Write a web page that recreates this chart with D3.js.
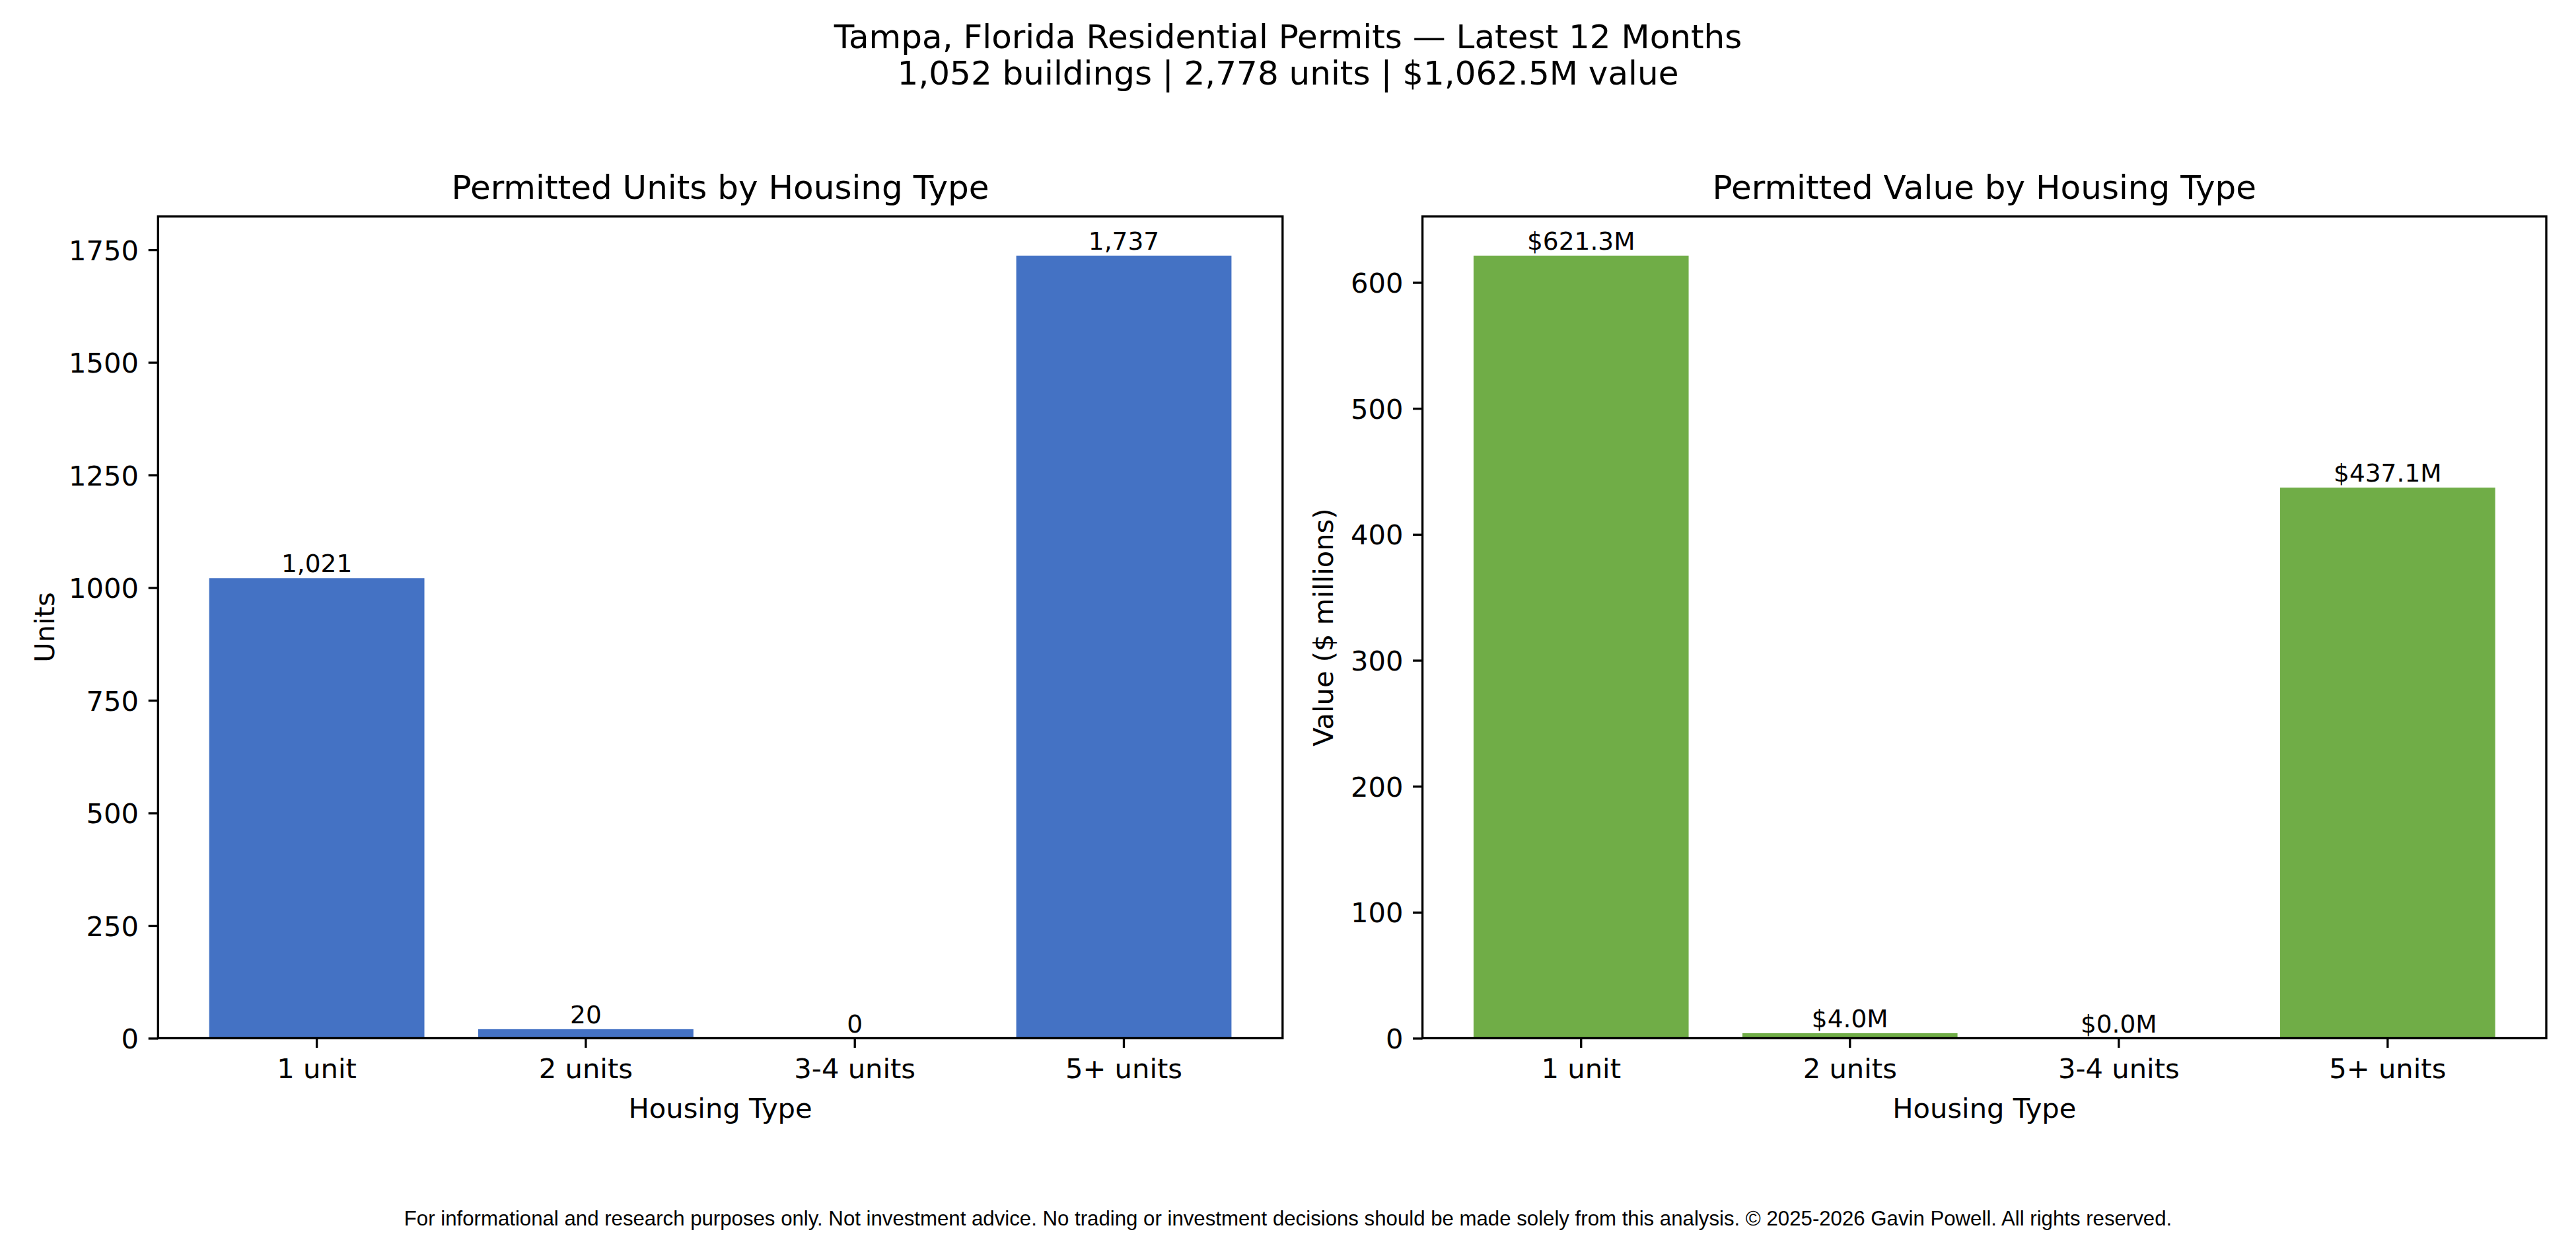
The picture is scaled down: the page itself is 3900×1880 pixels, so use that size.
<!DOCTYPE html>
<html>
<head>
<meta charset="utf-8">
<script src="https://cdn.jsdelivr.net/npm/d3@7"></script>
<style>
  body { margin: 0; background: #ffffff; }
  text { font-family: "DejaVu Sans", sans-serif; fill: #000000; }
</style>
</head>
<body>
<svg id="chart"></svg>
<script>

//chart values//

var housingTypes = ["1 unit", "2 units", "3-4 units", "5+ units"];
var unitCounts = [1021, 20, 0, 1737];
var valueMillions = [621.3, 4.0, 0.0, 437.1];

var unitTicks = [0, 250, 500, 750, 1000, 1250, 1500, 1750];
var valueTicks = [0, 100, 200, 300, 400, 500, 600];

var mainTitle = "Tampa, Florida Residential Permits \u2014 Latest 12 Months";
var subTitle = "1,052 buildings | 2,778 units | $1,062.5M value";
var footNote = "For informational and research purposes only. Not investment advice. No trading or investment decisions should be made solely from this analysis. \u00a9 2025-2026 Gavin Powell. All rights reserved.";

//size of the picture and of the two plot boxes//

var screen = {width: 3900, height: 1880};
var plotTop = 327.7, plotBottom = 1571.5;
var lw = 3.33;          // 0.8pt at 300 dpi
var tickLen = 14.6;     // 3.5pt

var svg = d3.select("#chart")
            .attr("width", screen.width)
            .attr("height", screen.height);

svg.append("rect")
   .attr("width", screen.width)
   .attr("height", screen.height)
   .attr("fill", "#ffffff");

//big title up top//

svg.append("text")
   .attr("x", screen.width / 2)
   .attr("y", 73)
   .attr("text-anchor", "middle")
   .style("font-size", "50px")
   .text(mainTitle);

svg.append("text")
   .attr("x", screen.width / 2)
   .attr("y", 128)
   .attr("text-anchor", "middle")
   .style("font-size", "50px")
   .text(subTitle);

//one bar panel, used twice//

var drawPanel = function(opts)
{
  var x0 = opts.left, x1 = opts.right;

  var xScale = d3.scaleBand()
                 .domain(housingTypes)
                 .range([x0, x1])
                 .paddingInner(0.2)
                 .paddingOuter(0.19);

  var yScale = d3.scaleLinear()
                 .domain([0, d3.max(opts.data) * 1.05])
                 .range([plotBottom, plotTop]);

  var g = svg.append("g");

  //bars//
  g.selectAll("rect.bar")
   .data(opts.data)
   .enter()
   .append("rect")
   .attr("class", "bar")
   .attr("x", function(d, i) { return xScale(housingTypes[i]); })
   .attr("width", xScale.bandwidth())
   .attr("y", function(d) { return yScale(d); })
   .attr("height", function(d) { return plotBottom - yScale(d); })
   .attr("fill", opts.color);

  //labels on top of the bars//
  g.selectAll("text.barlabel")
   .data(opts.data)
   .enter()
   .append("text")
   .attr("class", "barlabel")
   .attr("x", function(d, i) { return xScale(housingTypes[i]) + xScale.bandwidth() / 2; })
   .attr("y", function(d) { return yScale(d) - 8.8; })
   .attr("text-anchor", "middle")
   .style("font-size", "37.5px")
   .text(opts.fmt);

  //axes//
  var xAxis = d3.axisBottom(xScale)
                .tickSize(tickLen)
                .tickSizeOuter(0)
                .tickPadding(14.6);

  var yAxis = d3.axisLeft(yScale)
                .tickValues(opts.ticks)
                .tickFormat(d3.format("d"))
                .tickSize(tickLen)
                .tickSizeOuter(0)
                .tickPadding(14.6);

  var gx = g.append("g")
            .attr("transform", "translate(0," + plotBottom + ")")
            .call(xAxis);

  var gy = g.append("g")
            .attr("transform", "translate(" + x0 + ",0)")
            .call(yAxis);

  [gx, gy].forEach(function(ax)
  {
    ax.select(".domain").remove();
    ax.selectAll(".tick line").attr("stroke", "#000").attr("stroke-width", lw);
    ax.selectAll(".tick text")
      .style("font-family", "DejaVu Sans")
      .style("font-size", "41.67px")
      .attr("fill", "#000");
  });
  gx.selectAll(".tick text").attr("dy", "0.76em");
  gy.selectAll(".tick text").attr("dy", "0.36em");

  //frame goes over the bars//
  g.append("rect")
   .attr("x", x0)
   .attr("y", plotTop)
   .attr("width", x1 - x0)
   .attr("height", plotBottom - plotTop)
   .attr("fill", "none")
   .attr("stroke", "#000")
   .attr("stroke-width", lw);

  //panel title and axis titles//
  g.append("text")
   .attr("x", (x0 + x1) / 2)
   .attr("y", 301)
   .attr("text-anchor", "middle")
   .style("font-size", "50px")
   .text(opts.title);

  g.append("text")
   .attr("x", (x0 + x1) / 2)
   .attr("y", 1692)
   .attr("text-anchor", "middle")
   .style("font-size", "41.67px")
   .text("Housing Type");

  g.append("text")
   .attr("transform", "translate(" + opts.ylabelX + "," + (plotTop + plotBottom) / 2 + ") rotate(-90)")
   .attr("text-anchor", "middle")
   .style("font-size", "41.67px")
   .text(opts.ylabel);
}

drawPanel({
  left: 239.3, right: 1941.8,
  data: unitCounts,
  ticks: unitTicks,
  color: "#4472C4",
  fmt: d3.format(","),
  title: "Permitted Units by Housing Type",
  ylabel: "Units",
  ylabelX: 82
});

drawPanel({
  left: 2153.6, right: 3855,
  data: valueMillions,
  ticks: valueTicks,
  color: "#70AD47",
  fmt: function(d) { return "$" + d3.format(".1f")(d) + "M"; },
  title: "Permitted Value by Housing Type",
  ylabel: "Value ($ millions)",
  ylabelX: 2018
});

//small print at the bottom//

svg.append("text")
   .attr("x", screen.width / 2)
   .attr("y", 1855)
   .attr("text-anchor", "middle")
   .style("font-family", "'Liberation Sans', Arial, sans-serif")
   .style("font-size", "31.2px")
   .text(footNote);

</script>
</body>
</html>
